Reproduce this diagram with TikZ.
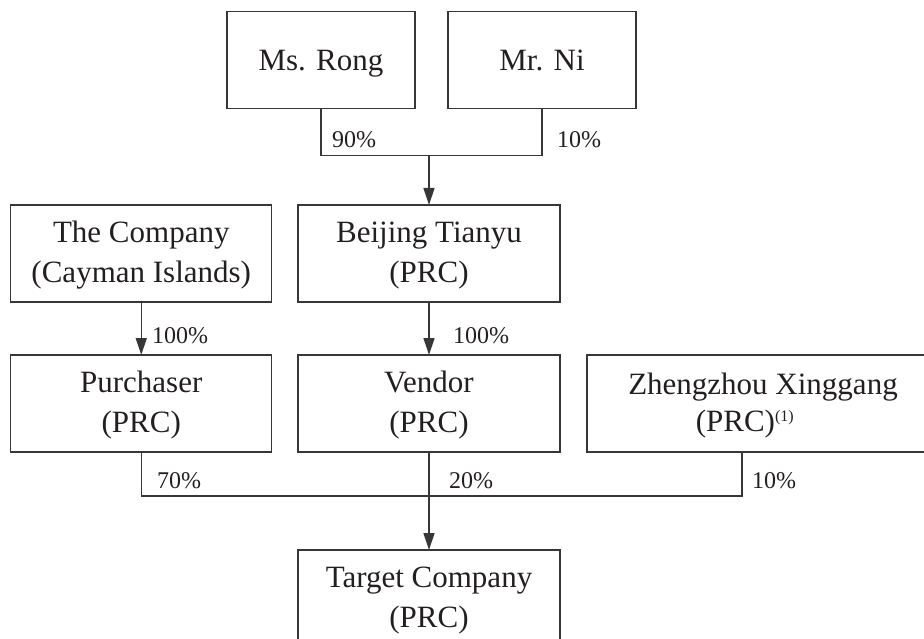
\documentclass[tikz,border=0pt]{standalone}
\usepackage{fontspec}
\setmainfont{Liberation Serif}
\usetikzlibrary{arrows.meta,calc}
\definecolor{ln}{RGB}{55,55,55}
\definecolor{tx}{RGB}{35,31,32}
\newcommand{\topstrut}{\rule{0pt}{25pt}}
\newcommand{\botstrut}{\rule[-6pt]{0pt}{6pt}}
\tikzset{
  box/.style={draw=ln, line width=1.3pt, rectangle, inner sep=0pt, outer sep=0pt,
    minimum height=97pt, align=center, text=tx, font=\fontsize{31}{40}\selectfont},
  onebox/.style={box, align=none, text height=21pt, text depth=0pt},
  pct/.style={anchor=base west, inner sep=0pt, text=tx, font=\fontsize{24}{28}\selectfont},
  conn/.style={draw=ln, line width=1.3pt},
  arr/.style={conn, -{Triangle[length=17pt,width=11pt]}}
}
\begin{document}
\begin{tikzpicture}[x=1pt,y=-1pt]
\useasboundingbox (0,0) rectangle (924,639);
% top row
\node[onebox, minimum width=188pt] (rong) at (321,60) {Ms. Rong};
\node[onebox, minimum width=188pt] (ni) at (542,60) {Mr. Ni};
% second row
\node[box, minimum width=261pt] (co) at (141.25,253.5) {\topstrut The Company\\(Cayman Islands)\botstrut};
\node[box, minimum width=262pt] (bt) at (429,253.5) {\topstrut Beijing Tianyu\\(PRC)\botstrut};
% third row
\node[box, minimum width=261pt] (pur) at (141.25,403.5) {\topstrut Purchaser\\(PRC)\botstrut};
\node[box, minimum width=262pt] (ven) at (429,403.5) {\topstrut Vendor\\(PRC)\botstrut};
\node[box, minimum width=346pt] (zz) at (760,403.5) {};
\node[anchor=base, inner sep=0pt, text=tx, font=\fontsize{31}{40}\selectfont] (zz1) at (763,394) {Zhengzhou Xinggang};
\node[anchor=base, inner sep=0pt, text=tx, font=\fontsize{31}{40}\selectfont] (zz2) at (745,431) {(PRC)\textsuperscript{\fontsize{16}{18}\selectfont(1)}};
% target
\node[box, minimum width=262pt] (tgt) at (429,598.5) {\topstrut Target Company\\(PRC)\botstrut};

% joins
\coordinate (j1) at (429,155.7);
\coordinate (j2) at (429,496);
\coordinate (zzb) at ($(zz.south west)+(155,0)$);

% connectors
\draw[conn] (rong.south) |- (ni.south |- j1) -- (ni.south);
\draw[arr] (j1) -- (bt.north);
\draw[arr] (co.south) -- (pur.north);
\draw[arr] (bt.south) -- (ven.north);
\draw[conn] (pur.south) |- (zzb |- j2) -- (zzb);
\draw[arr] (ven.south) -- (tgt.north);

% labels
\node[pct] (p90) at (332,148) {90\%};
\node[pct] (p10a) at (557,148) {10\%};
\node[pct] (p100a) at (152,343) {100\%};
\node[pct] (p100b) at (453,343) {100\%};
\node[pct] (p70) at (157,488) {70\%};
\node[pct] (p20) at (449,488) {20\%};
\node[pct] (p10b) at (752,488) {10\%};
\end{tikzpicture}
\end{document}
